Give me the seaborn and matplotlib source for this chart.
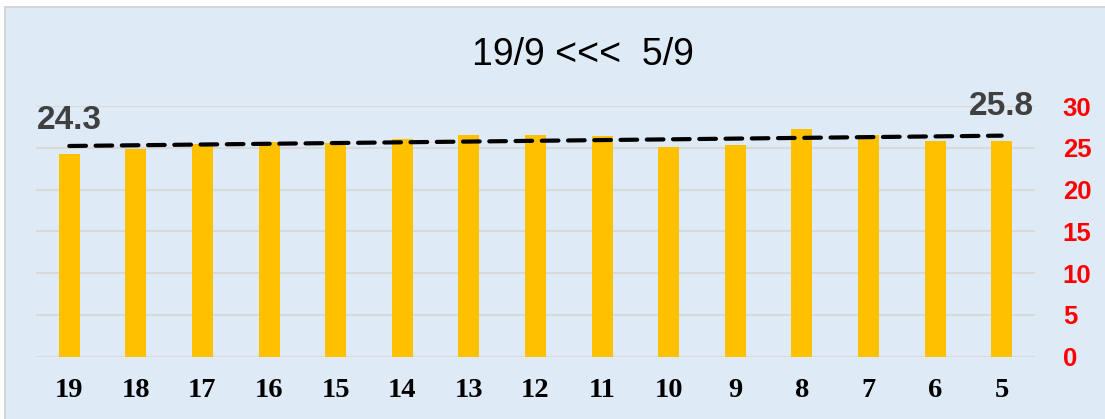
import numpy as np
import matplotlib
matplotlib.use("Agg")
import matplotlib.pyplot as plt
import seaborn as sns
from matplotlib.patches import Rectangle

# Data
days = ["19", "18", "17", "16", "15", "14", "13", "12", "11", "10", "9", "8", "7", "6", "5"]
values = [24.3, 24.9, 25.45, 25.75, 25.6, 26.05, 26.55, 26.55, 26.45, 25.15, 25.35, 27.25, 26.55, 25.8, 25.8]
y_ticks = [0, 5, 10, 15, 20, 25, 30]
title = "19/9 <<<  5/9"

sns.set_theme(style="white")
plt.rcParams['font.family'] = ['Liberation Sans', 'DejaVu Sans']

fig = plt.figure(figsize=(11.05, 4.19), dpi=100)
fig.patch.set_facecolor("white")

# Chart area background
bg = Rectangle((5 / 1105, -0.01), 1.0, (419 - 7) / 419 + 0.01,
               transform=fig.transFigure, facecolor="#DEEAF6",
               edgecolor="#D0D0D0", linewidth=1.2, zorder=-10)
fig.add_artist(bg)

ax = fig.add_axes([36 / 1105, 62.3 / 419, (1035 - 36) / 1105, (356.7 - 106) / 419])
ax.set_facecolor("none")

sns.barplot(x=days, y=values, order=days, color="#FFC000", width=0.315,
            saturation=1, linewidth=0, ax=ax, zorder=3)

# Linear trend line
pos = np.arange(len(values))
coef = np.polyfit(pos, values, 1)
ax.plot(pos, np.polyval(coef, pos), color="black", linewidth=3,
        dashes=(4, 2.3), dash_capstyle="round", zorder=4)

ax.set_xlim(-0.5, len(days) - 0.5)
ax.set_ylim(0, 30)
ax.set_yticks(y_ticks)
ax.yaxis.tick_right()
ax.yaxis.grid(True, color="#D9D9D9", linewidth=1.5, zorder=0)
ax.set_axisbelow(True)
for s in ax.spines.values():
    s.set_visible(False)

ax.tick_params(axis="y", length=0, pad=20, labelsize=18.5, labelcolor="#FF0000")
for lbl in ax.get_yticklabels():
    lbl.set_fontweight("bold")
ax.tick_params(axis="x", length=0, pad=15)
for lbl in ax.get_xticklabels():
    lbl.set_fontfamily("Liberation Serif")
    lbl.set_fontweight("bold")
    lbl.set_fontsize(20.5)
    lbl.set_color("black")
ax.set_xlabel("")
ax.set_ylabel("")

# First and last value labels
ax.text(0, 28.3, f"{values[0]}", ha="center", va="center", fontsize=24,
        fontweight="bold", color="#404040", clip_on=False)
ax.text(len(values) - 1, 29.9, f"{values[-1]}", ha="center", va="center", fontsize=24,
        fontweight="bold", color="#404040", clip_on=False)

fig.text(583 / 1105, (419 - 55) / 419, title, ha="center", va="center",
         fontsize=27, color="black")

fig.savefig("out.png", dpi=100)
